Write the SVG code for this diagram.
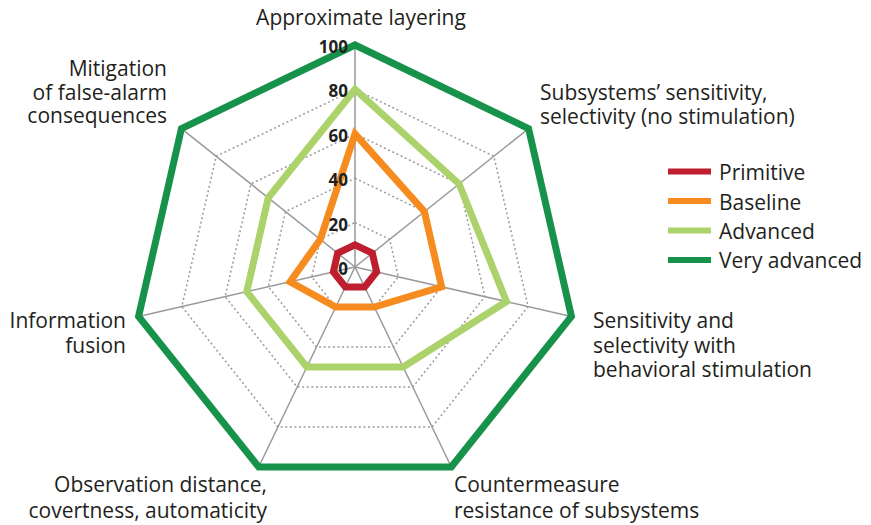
<svg xmlns="http://www.w3.org/2000/svg" width="871" height="525" viewBox="0 0 871 525">
<style>
.ring{fill:none;stroke:#9a9a9a;stroke-width:1.5;stroke-dasharray:2 2.6}
.axis{stroke:#9a9a9a;stroke-width:1.5}
.s{fill:none;stroke-width:7;stroke-linejoin:miter;stroke-miterlimit:10}
.lab{font-family:"Open Sans","Noto Sans","Liberation Sans",sans-serif;font-size:21px;fill:#231f20}
.tick{font-family:"Open Sans","Noto Sans","Liberation Sans",sans-serif;font-size:17px;font-weight:bold;fill:#231f20;text-anchor:end}
.leg{stroke-width:6}
</style>
<rect width="871" height="525" fill="#ffffff"/>
<g id="grid">
<polygon class="ring" points="355,89.4 493.85,156.27 528.15,306.52 432.06,427.01 277.94,427.01 181.85,306.52 216.15,156.27"/>
<polygon class="ring" points="355,133.8 459.14,183.95 484.86,296.64 412.79,387.01 297.21,387.01 225.14,296.64 250.86,183.95"/>
<polygon class="ring" points="355,178.2 424.43,211.63 441.57,286.76 393.53,347.01 316.47,347.01 268.43,286.76 285.57,211.63"/>
<polygon class="ring" points="355,222.6 389.71,239.32 398.29,276.88 374.26,307 335.74,307 311.71,276.88 320.29,239.32"/>
</g>
<g id="axes">
<line class="axis" x1="355" y1="267" x2="355" y2="45"/>
<line class="axis" x1="355" y1="267" x2="528.57" y2="128.59"/>
<line class="axis" x1="355" y1="267" x2="571.43" y2="316.4"/>
<line class="axis" x1="355" y1="267" x2="451.32" y2="467.02"/>
<line class="axis" x1="355" y1="267" x2="258.68" y2="467.02"/>
<line class="axis" x1="355" y1="267" x2="138.57" y2="316.4"/>
<line class="axis" x1="355" y1="267" x2="181.43" y2="128.59"/>
</g>
<g id="series-very-advanced">
<polygon class="s" stroke="#17924a" points="355,45 528.57,128.59 571.43,316.4 451.32,467.02 258.68,467.02 138.57,316.4 181.43,128.59"/>
</g>
<g id="series-advanced">
<polygon class="s" stroke="#acd36b" points="355,89.4 459.14,183.95 506.5,301.58 403.16,367.01 306.84,367.01 246.78,291.7 268.22,197.79"/>
</g>
<g id="series-baseline">
<polygon class="s" stroke="#f68b1f" points="355,133.8 424.43,211.63 441.57,286.76 374.26,307 335.74,307 290.07,281.82 320.29,239.32"/>
</g>
<g id="series-primitive">
<polygon class="s" stroke="#be1e2d" points="355,244.8 372.36,253.16 376.64,271.94 364.63,287 345.37,287 333.36,271.94 337.64,253.16"/>
</g>
<g id="ticks">
<text class="tick" x="348" y="53">100</text>
<text class="tick" x="348" y="97">80</text>
<text class="tick" x="348" y="142">60</text>
<text class="tick" x="348" y="186">40</text>
<text class="tick" x="348" y="231">20</text>
<text class="tick" x="348" y="275">0</text>
</g>
<g id="axis-labels">
<g id="label-approximate-layering"><text class="lab" x="361" y="25" text-anchor="middle">Approximate layering</text></g>
<g id="label-subsystems"><text class="lab" x="540" y="100">Subsystems’ sensitivity,</text><text class="lab" x="540" y="123.5">selectivity (no stimulation)</text></g>
<g id="label-sensitivity"><text class="lab" x="593" y="328">Sensitivity and</text><text class="lab" x="593" y="352.5">selectivity with</text><text class="lab" x="593" y="377">behavioral stimulation</text></g>
<g id="label-countermeasure"><text class="lab" x="454" y="492">Countermeasure</text><text class="lab" x="454" y="518">resistance of subsystems</text></g>
<g id="label-observation"><text class="lab" x="267" y="492" text-anchor="end">Observation distance,</text><text class="lab" x="267" y="518" text-anchor="end">covertness, automaticity</text></g>
<g id="label-information"><text class="lab" x="126" y="328" text-anchor="end">Information</text><text class="lab" x="126" y="352.5" text-anchor="end">fusion</text></g>
<g id="label-mitigation"><text class="lab" x="167" y="76" text-anchor="end">Mitigation</text><text class="lab" x="167" y="99.5" text-anchor="end">of false-alarm</text><text class="lab" x="167" y="123" text-anchor="end">consequences</text></g>
</g>
<g id="legend">
<line class="leg" x1="668" y1="171.5" x2="711" y2="171.5" stroke="#be1e2d"/>
<line class="leg" x1="668" y1="201" x2="711" y2="201" stroke="#f68b1f"/>
<line class="leg" x1="668" y1="230.5" x2="711" y2="230.5" stroke="#acd36b"/>
<line class="leg" x1="668" y1="260" x2="711" y2="260" stroke="#17924a"/>
<text class="lab" x="719" y="180">Primitive</text>
<text class="lab" x="719" y="209.5">Baseline</text>
<text class="lab" x="719" y="239">Advanced</text>
<text class="lab" x="719" y="268">Very advanced</text>
</g>
</svg>
